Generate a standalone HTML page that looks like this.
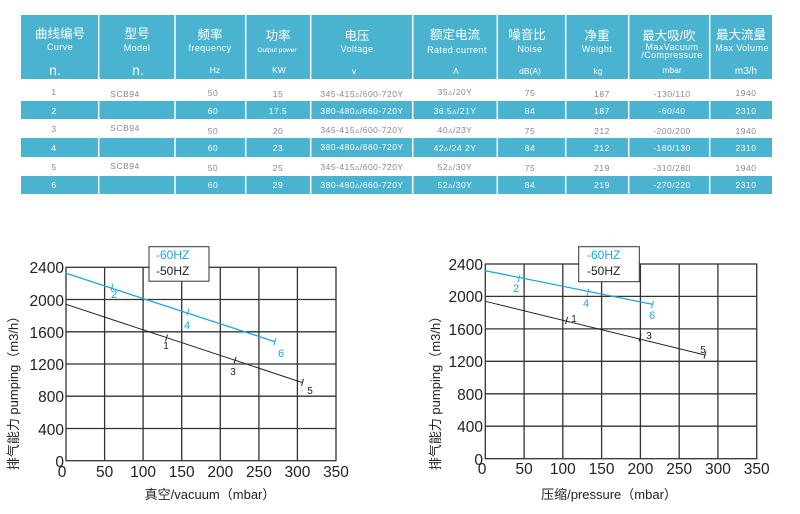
<!DOCTYPE html>
<html><head><meta charset="utf-8"><style>
body{margin:0;background:#fff;width:800px;height:509px;overflow:hidden}
svg text{font-family:"Liberation Sans","Noto Sans CJK SC",sans-serif}
</style></head><body>
<svg width="800" height="509" viewBox="0 0 800 509" xmlns="http://www.w3.org/2000/svg">
<g fill="#4ab4d0">
<rect x="21" y="15" width="751" height="64"/>
<rect x="21" y="101" width="751" height="18"/>
<rect x="21" y="138" width="751" height="19"/>
<rect x="21" y="176" width="751" height="18"/>
</g>
<g stroke="#fff" stroke-width="1.5">
<line x1="98.7" y1="15" x2="98.7" y2="194"/><line x1="175" y1="15" x2="175" y2="194"/>
<line x1="245.7" y1="15" x2="245.7" y2="194"/><line x1="310.7" y1="15" x2="310.7" y2="194"/>
<line x1="412.7" y1="15" x2="412.7" y2="194"/><line x1="497.3" y1="15" x2="497.3" y2="194"/>
<line x1="565.7" y1="15" x2="565.7" y2="194"/><line x1="628.7" y1="15" x2="628.7" y2="194"/>
<line x1="709.7" y1="15" x2="709.7" y2="194"/>
</g>
<g fill="#fff" text-anchor="middle">
<g font-size="12.5"><text x="60" y="38">曲线编号</text><text x="137" y="38">型号</text><text x="210" y="39">频率</text><text x="278" y="40">功率</text><text x="357" y="40">电压</text><text x="455" y="39">额定电流</text><text x="527" y="39">噪音比</text><text x="597" y="40">净重</text><text x="669" y="40">最大吸/吹</text><text x="741" y="39">最大流量</text></g>
<g font-size="9" letter-spacing="0.4"><text x="60" y="50">Curve</text><text x="137" y="51">Model</text><text x="210" y="51">frequency</text><text x="457" y="53">Rated current</text><text x="530" y="52">Noise</text><text x="597" y="52">Weight</text><text x="357" y="52">Voltage</text><text x="742" y="51">Max Volume</text><text x="672" y="50">MaxVacuum</text><text x="672" y="58">/Compressure</text></g>
<text x="277" y="52" font-size="6.5">Output power</text>
<g font-size="14"><text x="55" y="75">n.</text><text x="138" y="75">n.</text></g>
<g font-size="8.5"><text x="215" y="73">Hz</text><text x="279" y="73">KW</text><text x="354" y="74">v</text><text x="456" y="74">A</text><text x="530" y="74">dB(A)</text><text x="598" y="74">kg</text><text x="672" y="73">mbar</text><text x="746" y="74" font-size="10">m3/h</text></g>
</g>
<g font-size="8.5" text-anchor="middle" letter-spacing="0.5">
<g fill="#888"><text x="54" y="95">1</text><text x="125" y="97">SCB94</text><text x="213" y="96">50</text><text x="278" y="97">15</text><text x="362" y="97">345-415▵/600-720Y</text><text x="455" y="95">35▵/20Y</text><text x="530" y="96">75</text><text x="602" y="97">187</text><text x="672" y="97">-130/110</text><text x="746" y="96">1940</text></g>
<g fill="#fff"><text x="54" y="114">2</text><text x="213" y="114">60</text><text x="278" y="114">17.5</text><text x="362" y="114">380-480▵/660-720Y</text><text x="455" y="114">36.5▵/21Y</text><text x="530" y="114">84</text><text x="602" y="114">187</text><text x="672" y="114">-60/40</text><text x="746" y="114">2310</text></g>
<g fill="#888"><text x="54" y="132">3</text><text x="125" y="131">SCB94</text><text x="213" y="134">50</text><text x="278" y="134">20</text><text x="362" y="133">345-415▵/600-720Y</text><text x="455" y="133">40▵/23Y</text><text x="530" y="134">75</text><text x="602" y="134">212</text><text x="672" y="134">-200/200</text><text x="746" y="134">1940</text></g>
<g fill="#fff"><text x="54" y="151">4</text><text x="213" y="151">60</text><text x="278" y="151">23</text><text x="362" y="150">380-480▵/660-720Y</text><text x="455" y="151">42▵/24 2Y</text><text x="530" y="151">84</text><text x="602" y="151">212</text><text x="672" y="151">-160/130</text><text x="746" y="151">2310</text></g>
<g fill="#888"><text x="54" y="170">5</text><text x="125" y="169">SCB94</text><text x="213" y="171">50</text><text x="278" y="171">25</text><text x="362" y="170">345-415▵/600-720Y</text><text x="455" y="170">52▵/30Y</text><text x="530" y="171">75</text><text x="602" y="171">219</text><text x="672" y="171">-310/280</text><text x="746" y="171">1940</text></g>
<g fill="#fff"><text x="54" y="188">6</text><text x="213" y="188">60</text><text x="278" y="188">29</text><text x="362" y="188">380-480▵/660-720Y</text><text x="455" y="188">52▵/30Y</text><text x="530" y="188">84</text><text x="602" y="188">219</text><text x="672" y="188">-270/220</text><text x="746" y="188">2310</text></g>
</g>

<g stroke="#333" stroke-width="1.3" fill="none">
<rect x="66" y="267.3" width="270" height="193.4"/>
<path d="M104.6 267.3V460.7M143.1 267.3V460.7M181.7 267.3V460.7M220.3 267.3V460.7M258.9 267.3V460.7M297.4 267.3V460.7"/>
<path d="M66 299.5H336M66 331.8H336M66 364H336M66 396.2H336M66 428.5H336"/>
</g>
<line x1="66" y1="273.3" x2="275" y2="341.7" stroke="#1aa7e6" stroke-width="1.3"/>
<line x1="66" y1="304.3" x2="302.7" y2="382.7" stroke="#222" stroke-width="1"/>
<g stroke="#1aa7e6" stroke-width="1"><line x1="113" y1="284" x2="111" y2="291"/><line x1="189" y1="308.5" x2="187" y2="315.5"/><line x1="276" y1="338" x2="274" y2="345"/></g>
<g stroke="#222" stroke-width="1"><line x1="167.5" y1="334.5" x2="165.5" y2="341.5"/><line x1="236" y1="357" x2="234" y2="364"/><line x1="303.5" y1="379" x2="301.5" y2="386"/></g>
<g font-size="11" fill="#1aa7e6" text-anchor="middle"><text x="114" y="298">2</text><text x="187" y="329">4</text><text x="281" y="357">6</text></g>
<g font-size="10" fill="#222" text-anchor="middle"><text x="166" y="349">1</text><text x="233" y="375">3</text><text x="310" y="394">5</text></g>
<rect x="149" y="246.7" width="60" height="34.5" fill="#fff" stroke="#333" stroke-width="1"/>
<text x="156" y="259" font-size="12" fill="#1aa7e6">-60HZ</text>
<text x="156" y="275" font-size="12" fill="#222">-50HZ</text>
<g font-size="15.5" fill="#222" text-anchor="end"><text x="64" y="273">2400</text><text x="64" y="306">2000</text><text x="64" y="338">1600</text><text x="64" y="370">1200</text><text x="64" y="402">800</text><text x="64" y="435">400</text><text x="64" y="467">0</text></g>
<g font-size="15.5" fill="#222" text-anchor="middle"><text x="62" y="477">0</text><text x="104.6" y="477">50</text><text x="143.1" y="477">100</text><text x="181.7" y="477">150</text><text x="220.3" y="477">200</text><text x="258.9" y="477">250</text><text x="297.4" y="477">300</text><text x="336" y="477">350</text></g>
<text x="210" y="499" font-size="13" fill="#222" text-anchor="middle">真空/vacuum（mbar）</text>
<text transform="translate(18,390) rotate(-90)" font-size="13" fill="#222" text-anchor="middle">排气能力 pumping（m3/h）</text>

<g stroke="#333" stroke-width="1.3" fill="none">
<rect x="485.3" y="264" width="271.4" height="194.7"/>
<path d="M524.1 264V458.7M562.8 264V458.7M601.6 264V458.7M640.4 264V458.7M679.2 264V458.7M717.9 264V458.7"/>
<path d="M485.3 296.4H756.7M485.3 328.9H756.7M485.3 361.3H756.7M485.3 393.8H756.7M485.3 426.2H756.7"/>
</g>
<line x1="485.3" y1="270.7" x2="652.3" y2="304.3" stroke="#1aa7e6" stroke-width="1.3"/>
<line x1="485.3" y1="301.3" x2="705" y2="355" stroke="#222" stroke-width="1"/>
<g stroke="#1aa7e6" stroke-width="1"><line x1="520" y1="275" x2="518" y2="282"/><line x1="589" y1="289" x2="587" y2="296"/><line x1="653.5" y1="301" x2="651.5" y2="308"/></g>
<g stroke="#222" stroke-width="1"><line x1="567.5" y1="317" x2="565.5" y2="324"/><line x1="641" y1="334.5" x2="639" y2="341.5"/><line x1="706" y1="351.5" x2="704" y2="358.5"/></g>
<g font-size="11" fill="#1aa7e6" text-anchor="middle"><text x="516" y="292">2</text><text x="586" y="307">4</text><text x="652" y="319">6</text></g>
<g font-size="10" fill="#222" text-anchor="middle"><text x="574" y="322">1</text><text x="649" y="339">3</text><text x="703" y="353">5</text></g>
<rect x="578.7" y="246.7" width="60.6" height="35" fill="#fff" stroke="#333" stroke-width="1"/>
<text x="587" y="259" font-size="12" fill="#1aa7e6">-60HZ</text>
<text x="587" y="275" font-size="12" fill="#222">-50HZ</text>
<g font-size="15.5" fill="#222" text-anchor="end"><text x="483" y="270">2400</text><text x="483" y="302">2000</text><text x="483" y="335">1600</text><text x="483" y="367">1200</text><text x="483" y="400">800</text><text x="483" y="432">400</text><text x="483" y="465">0</text></g>
<g font-size="15.5" fill="#222" text-anchor="middle"><text x="482" y="474">0</text><text x="524.1" y="474">50</text><text x="562.8" y="474">100</text><text x="601.6" y="474">150</text><text x="640.4" y="474">200</text><text x="679.2" y="474">250</text><text x="717.9" y="474">300</text><text x="756.7" y="474">350</text></g>
<text x="609" y="499" font-size="13" fill="#222" text-anchor="middle">压缩/pressure（mbar）</text>
<text transform="translate(440,390) rotate(-90)" font-size="13" fill="#222" text-anchor="middle">排气能力 pumping（m3/h）</text>
</svg>
</body></html>
